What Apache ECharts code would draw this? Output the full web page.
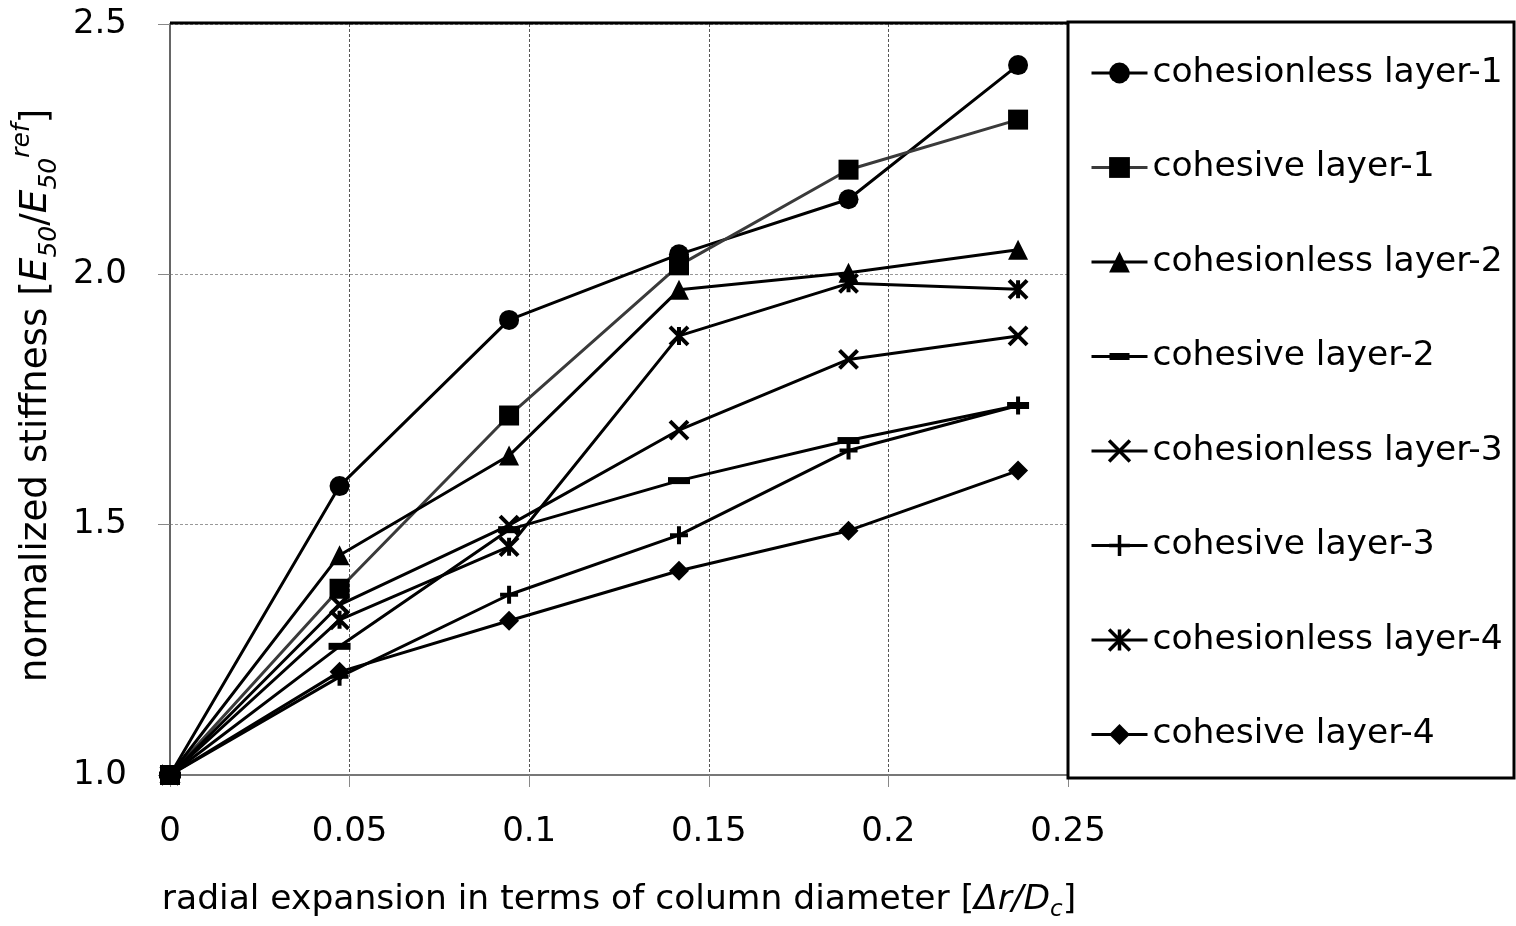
<!DOCTYPE html>
<html>
<head>
<meta charset="utf-8">
<script src="https://cdn.jsdelivr.net/npm/echarts@6/dist/echarts.min.js"></script>
<style>
html,body{margin:0;padding:0;background:#fff;}
#chart{width:1516px;height:926px;}
</style>
</head>
<body>
<div id="chart"></div>
<script>
// ---- data ----
var xValues = [0, 0.0472, 0.0944, 0.1417, 0.1889, 0.2361];
var seriesNames = ['cohesionless layer-1','cohesive layer-1','cohesionless layer-2','cohesive layer-2','cohesionless layer-3','cohesive layer-3','cohesionless layer-4','cohesive layer-4'];
var cohesionless1 = [1.0, 1.577, 1.909, 2.040, 2.150, 2.418];
var cohesive1     = [1.0, 1.372, 1.718, 2.018, 2.209, 2.309];
var cohesionless2 = [1.0, 1.439, 1.638, 1.969, 2.003, 2.049];
var cohesive2     = [1.0, 1.257, 1.490, 1.588, 1.668, 1.738];
var cohesionless3 = [1.0, 1.340, 1.499, 1.689, 1.830, 1.877];
var cohesive3     = [1.0, 1.196, 1.360, 1.479, 1.648, 1.738];
var cohesionless4 = [1.0, 1.310, 1.456, 1.877, 1.982, 1.970];
var cohesive4     = [1.0, 1.206, 1.308, 1.408, 1.488, 1.608];
var yTicks = [1.0, 1.5, 2.0, 2.5];
var xTicks = [0, 0.05, 0.1, 0.15, 0.2, 0.25];

var allValues = [cohesionless1, cohesive1, cohesionless2, cohesive2, cohesionless3, cohesive3, cohesionless4, cohesive4];

var FONT = 'DejaVu Sans';
var symX = 'path://M0,0L10,10M0,10L10,0';
var symPlus = 'path://M5,0L5,10M0,5L10,5';
var symAst = 'path://M0,0L10,10M0,10L10,0M5,0L5,10';
var symbols = ['circle','rect','triangle','rect',symX,symPlus,symAst,'diamond'];
var sizes = [20,20,20,[22,7],18,18,18,20];
var lineColors = ['#000','#3a3a3a','#000','#000','#000','#000','#000','#000'];
var stroked = [false,false,false,false,true,true,true,false];
// legend icon for the dash-marker series: line with a thick middle bar (56 x 26 box)
var dashIcon = 'path://M0,0L0.01,0L0,0.01ZM56,26L55.99,26L56,25.99ZM0,11.5L18,11.5L18,9.5L38,9.5L38,11.5L56,11.5L56,14.5L38,14.5L38,16.5L18,16.5L18,14.5L0,14.5Z';

function pairs(arr){ return arr.map(function(v,i){ return [xValues[i], v]; }); }

var series = allValues.map(function(vals, k){
  return {
    name: seriesNames[k],
    type: 'line',
    data: pairs(vals),
    symbol: symbols[k],
    symbolSize: sizes[k],
    showSymbol: true,
    lineStyle: {color: lineColors[k], width: 3},
    itemStyle: {color: '#000', borderColor: '#000', borderWidth: stroked[k] ? 4 : 0},
    emphasis: {disabled: true},
    z: 3 + k
  };
});

var legendData = seriesNames.map(function(n, k){
  if (k === 3) return {name: n, icon: dashIcon};
  if (stroked[k]) return {name: n, itemStyle: {borderWidth: 3.5, borderColor: '#000'}};
  return {name: n};
});

var chart = echarts.init(document.getElementById('chart'), null, {renderer: 'canvas'});
chart.setOption({
  animation: false,
  backgroundColor: '#fff',
  textStyle: {fontFamily: FONT},
  grid: {left: 170, right: 448, top: 24, bottom: 151, containLabel: false, outerBoundsMode: 'none'},
  xAxis: {
    type: 'value', min: 0, max: 0.25, interval: 0.05,
    axisLine: {show: true, lineStyle: {color: '#777', width: 2}},
    axisTick: {show: true, length: 12, lineStyle: {color: '#888', width: 1}},
    axisLabel: {fontSize: 34, color: '#000', margin: 40, fontFamily: FONT,
      formatter: function(v){ return xTicks.indexOf(Math.round(v*100)/100) >= 0 ? String(Math.round(v*100)/100) : ''; }},
    splitLine: {show: true, lineStyle: {color: '#555', width: 1, type: [3,2]}},
    name: '{n|radial expansion in terms of column diameter [}{i|Δr/D}{sub|c}{n|]}',
    nameLocation: 'middle', nameGap: 103,
    nameTextStyle: {
      rich: {
        n: {fontSize: 34.5, fontFamily: FONT, color: '#000', lineHeight: 44},
        i: {fontSize: 34.5, fontFamily: FONT, fontStyle: 'italic', color: '#000', lineHeight: 44},
        sub: {fontSize: 23, fontFamily: FONT, fontStyle: 'italic', color: '#000', lineHeight: 22, verticalAlign: 'bottom'}
      }
    }
  },
  yAxis: {
    type: 'value', min: 1, max: 2.5, interval: 0.5,
    axisLine: {show: true, lineStyle: {color: '#666', width: 2}},
    axisTick: {show: true, length: 12, lineStyle: {color: '#888', width: 1}},
    axisLabel: {fontSize: 34, color: '#000', margin: 43, fontFamily: FONT,
      formatter: function(v){ return v.toFixed(1); }},
    splitLine: {show: true, lineStyle: {color: '#999', width: 1, type: [3,2]}},
    name: '{n|normalized stiffness [}{i|E}{sub|50}{n|/}{i|E}{sub|50}{sup|ref}{n|]}',
    nameLocation: 'middle', nameGap: 108, nameRotate: 90,
    nameTextStyle: {
      padding: [0, 0, 0, 8],
      rich: {
        n: {fontSize: 37.3, fontFamily: FONT, color: '#000', lineHeight: 52},
        i: {fontSize: 37.3, fontFamily: FONT, fontStyle: 'italic', color: '#000', lineHeight: 52},
        sub: {fontSize: 25, fontFamily: FONT, fontStyle: 'italic', color: '#000', lineHeight: 24, verticalAlign: 'bottom'},
        sup: {fontSize: 25, fontFamily: FONT, fontStyle: 'italic', color: '#000', lineHeight: 24, verticalAlign: 'top'}
      }
    }
  },
  legend: {
    orient: 'vertical',
    left: 1090, top: 53, padding: 0,
    itemWidth: 56, itemHeight: 26,
    itemGap: 54.5,
    selectedMode: false,
    lineStyle: {width: 3},
    textStyle: {fontSize: 34.5, fontFamily: FONT, color: '#000', lineHeight: 40},
    data: legendData
  },
  graphic: [
    {type: 'rect', shape: {x: 1068, y: 22, width: 446, height: 756}, style: {fill: 'none', stroke: '#000', lineWidth: 3}, z: 1},
    {type: 'line', shape: {x1: 170, y1: 23, x2: 1068, y2: 23}, style: {stroke: '#000', lineWidth: 3}, z: 1}
  ],
  series: series
});
</script>
</body>
</html>
